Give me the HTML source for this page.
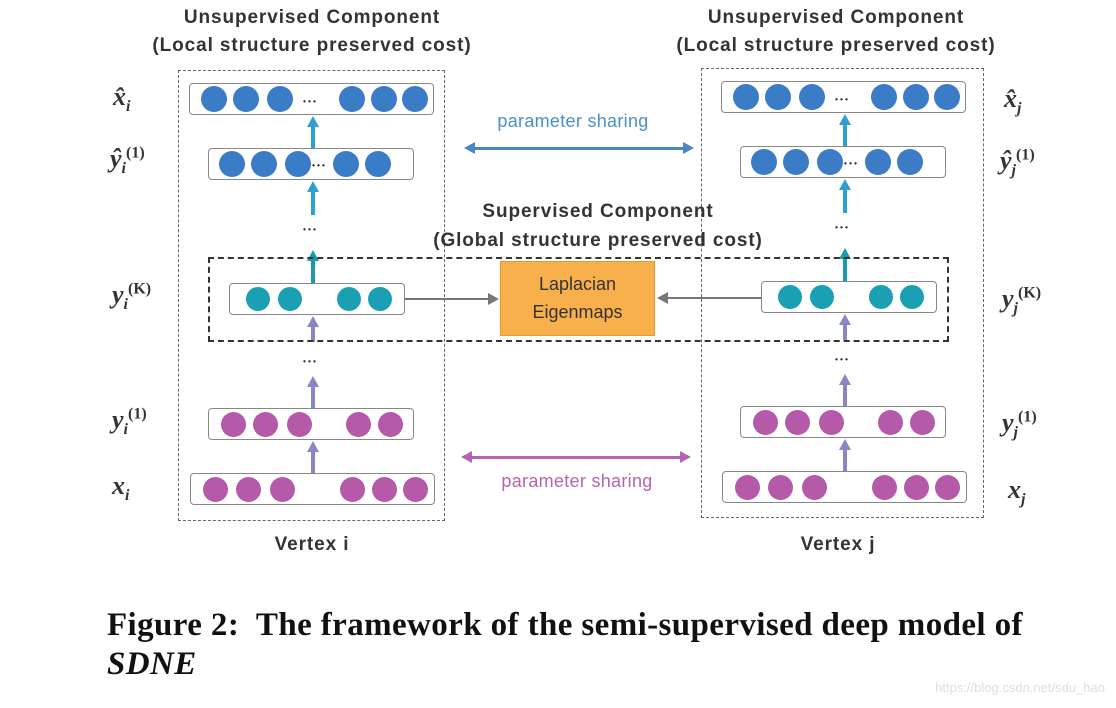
<!DOCTYPE html>
<html><head><meta charset="utf-8"><style>
html,body{margin:0;padding:0;background:#fff;width:1116px;height:708px;overflow:hidden;position:relative;}
div,span{position:absolute;box-sizing:border-box;}
.db{border:1.5px dashed #666;}
.row{border:1.5px solid #888;border-radius:4px;background:#fff;}
.c{border-radius:50%;width:26px;height:26px;}
.b{background:#3a7cc6;}.tl{background:#1aa0b2;}.p{background:#b45aa8;width:25px;height:25px;}
.t{font-family:"Liberation Sans",sans-serif;font-weight:bold;color:#333;font-size:19px;letter-spacing:0.9px;white-space:nowrap;text-align:center;}
.m{font-family:"Liberation Serif",serif;font-style:italic;font-weight:bold;color:#333;font-size:26px;white-space:nowrap;}
.m sub{font-size:16px;} .m sup{font-size:16px;font-style:normal;}
.dots{font-family:"Liberation Serif",serif;font-weight:bold;color:#333;font-size:15px;}
.vl{width:4px;}
.up{width:0;height:0;border-left:6px solid transparent;border-right:6px solid transparent;}
.cap{font-family:"Liberation Serif",serif;font-weight:bold;color:#111;font-size:33px;letter-spacing:0.4px;white-space:nowrap;}
</style></head><body>

<!-- LEFT COLUMN -->
<div class="db" style="left:178px;top:70px;width:267px;height:451px;"></div>
<div class="row" style="left:189px;top:83px;width:245px;height:32px;"></div>
<div class="c b" style="left:201px;top:86px"></div><div class="c b" style="left:233px;top:86px"></div><div class="c b" style="left:267px;top:86px"></div>
<div class="c b" style="left:339px;top:86px"></div><div class="c b" style="left:371px;top:86px"></div><div class="c b" style="left:402px;top:86px"></div>
<div class="dots" style="left:302px;top:94px">···</div>
<div class="row" style="left:208px;top:148px;width:206px;height:32px;"></div>
<div class="c b" style="left:219px;top:151px"></div><div class="c b" style="left:251px;top:151px"></div><div class="c b" style="left:285px;top:151px"></div>
<div class="c b" style="left:333px;top:151px"></div><div class="c b" style="left:365px;top:151px"></div>
<div class="dots" style="left:311px;top:158px">···</div>
<div class="row" style="left:229px;top:283px;width:176px;height:32px;"></div>
<div class="c tl" style="left:246px;top:287px;width:24px;height:24px"></div><div class="c tl" style="left:278px;top:287px;width:24px;height:24px"></div>
<div class="c tl" style="left:337px;top:287px;width:24px;height:24px"></div><div class="c tl" style="left:368px;top:287px;width:24px;height:24px"></div>
<div class="row" style="left:208px;top:408px;width:206px;height:32px;"></div>
<div class="c p" style="left:221px;top:412px"></div><div class="c p" style="left:253px;top:412px"></div><div class="c p" style="left:287px;top:412px"></div>
<div class="c p" style="left:346px;top:412px"></div><div class="c p" style="left:378px;top:412px"></div>
<div class="row" style="left:190px;top:473px;width:245px;height:32px;"></div>
<div class="c p" style="left:203px;top:477px"></div><div class="c p" style="left:236px;top:477px"></div><div class="c p" style="left:270px;top:477px"></div>
<div class="c p" style="left:340px;top:477px"></div><div class="c p" style="left:372px;top:477px"></div><div class="c p" style="left:403px;top:477px"></div>
<div class="vl" style="left:311px;top:126px;height:22px;background:#2f9fd0"></div><div class="up" style="left:307px;top:116px;border-bottom:11px solid #2f9fd0"></div>
<div class="vl" style="left:311px;top:191px;height:24px;background:#2f9fd0"></div><div class="up" style="left:307px;top:181px;border-bottom:11px solid #2f9fd0"></div>
<div class="vl" style="left:311px;top:260px;height:23px;background:#1a9aad"></div><div class="up" style="left:307px;top:250px;border-bottom:11px solid #1a9aad"></div>
<div class="vl" style="left:311px;top:326px;height:16px;background:#8a86c4"></div><div class="up" style="left:307px;top:316px;border-bottom:11px solid #8a86c4"></div>
<div class="vl" style="left:311px;top:386px;height:22px;background:#8a86c4"></div><div class="up" style="left:307px;top:376px;border-bottom:11px solid #8a86c4"></div>
<div class="vl" style="left:311px;top:451px;height:22px;background:#8a86c4"></div><div class="up" style="left:307px;top:441px;border-bottom:11px solid #8a86c4"></div>
<div class="dots" style="left:302px;top:222px">···</div>
<div class="dots" style="left:302px;top:354px">···</div>

<!-- RIGHT COLUMN -->
<div class="db" style="left:701px;top:68px;width:283px;height:450px;"></div>
<div class="row" style="left:721px;top:81px;width:245px;height:32px;"></div>
<div class="c b" style="left:733px;top:84px"></div><div class="c b" style="left:765px;top:84px"></div><div class="c b" style="left:799px;top:84px"></div>
<div class="c b" style="left:871px;top:84px"></div><div class="c b" style="left:903px;top:84px"></div><div class="c b" style="left:934px;top:84px"></div>
<div class="dots" style="left:834px;top:92px">···</div>
<div class="row" style="left:740px;top:146px;width:206px;height:32px;"></div>
<div class="c b" style="left:751px;top:149px"></div><div class="c b" style="left:783px;top:149px"></div><div class="c b" style="left:817px;top:149px"></div>
<div class="c b" style="left:865px;top:149px"></div><div class="c b" style="left:897px;top:149px"></div>
<div class="dots" style="left:843px;top:156px">···</div>
<div class="row" style="left:761px;top:281px;width:176px;height:32px;"></div>
<div class="c tl" style="left:778px;top:285px;width:24px;height:24px"></div><div class="c tl" style="left:810px;top:285px;width:24px;height:24px"></div>
<div class="c tl" style="left:869px;top:285px;width:24px;height:24px"></div><div class="c tl" style="left:900px;top:285px;width:24px;height:24px"></div>
<div class="row" style="left:740px;top:406px;width:206px;height:32px;"></div>
<div class="c p" style="left:753px;top:410px"></div><div class="c p" style="left:785px;top:410px"></div><div class="c p" style="left:819px;top:410px"></div>
<div class="c p" style="left:878px;top:410px"></div><div class="c p" style="left:910px;top:410px"></div>
<div class="row" style="left:722px;top:471px;width:245px;height:32px;"></div>
<div class="c p" style="left:735px;top:475px"></div><div class="c p" style="left:768px;top:475px"></div><div class="c p" style="left:802px;top:475px"></div>
<div class="c p" style="left:872px;top:475px"></div><div class="c p" style="left:904px;top:475px"></div><div class="c p" style="left:935px;top:475px"></div>
<div class="vl" style="left:843px;top:124px;height:22px;background:#2f9fd0"></div><div class="up" style="left:839px;top:114px;border-bottom:11px solid #2f9fd0"></div>
<div class="vl" style="left:843px;top:189px;height:24px;background:#2f9fd0"></div><div class="up" style="left:839px;top:179px;border-bottom:11px solid #2f9fd0"></div>
<div class="vl" style="left:843px;top:258px;height:23px;background:#1a9aad"></div><div class="up" style="left:839px;top:248px;border-bottom:11px solid #1a9aad"></div>
<div class="vl" style="left:843px;top:324px;height:16px;background:#8a86c4"></div><div class="up" style="left:839px;top:314px;border-bottom:11px solid #8a86c4"></div>
<div class="vl" style="left:843px;top:384px;height:22px;background:#8a86c4"></div><div class="up" style="left:839px;top:374px;border-bottom:11px solid #8a86c4"></div>
<div class="vl" style="left:843px;top:449px;height:22px;background:#8a86c4"></div><div class="up" style="left:839px;top:439px;border-bottom:11px solid #8a86c4"></div>
<div class="dots" style="left:834px;top:220px">···</div>
<div class="dots" style="left:834px;top:352px">···</div>

<!-- supervised box -->
<div style="left:208px;top:257px;width:741px;height:85px;border:2px dashed #333;"></div>
<div style="left:500px;top:261px;width:155px;height:75px;background:#f8b04d;border:1px solid #e59a30;font-family:'Liberation Sans',sans-serif;font-size:18px;color:#333;text-align:center;line-height:28px;padding-top:8px;">Laplacian<br>Eigenmaps</div>
<div style="left:405px;top:298px;width:85px;height:2px;background:#777"></div>
<div style="left:488px;top:293px;width:0;height:0;border-top:6px solid transparent;border-bottom:6px solid transparent;border-left:11px solid #777"></div>
<div style="left:667px;top:297px;width:94px;height:2px;background:#777"></div>
<div style="left:657px;top:292px;width:0;height:0;border-top:6px solid transparent;border-bottom:6px solid transparent;border-right:11px solid #777"></div>

<!-- parameter sharing -->
<div style="left:472px;top:147px;width:214px;height:2.5px;background:#4a86c6"></div>
<div style="left:464px;top:142px;width:0;height:0;border-top:6px solid transparent;border-bottom:6px solid transparent;border-right:11px solid #4a86c6"></div>
<div style="left:683px;top:142px;width:0;height:0;border-top:6px solid transparent;border-bottom:6px solid transparent;border-left:11px solid #4a86c6"></div>
<div style="left:473px;top:111px;width:200px;text-align:center;font-family:'Liberation Sans',sans-serif;font-size:18px;letter-spacing:0.3px;color:#4a90c8;">parameter sharing</div>
<div style="left:469px;top:456px;width:214px;height:2.5px;background:#b565b0"></div>
<div style="left:461px;top:451px;width:0;height:0;border-top:6px solid transparent;border-bottom:6px solid transparent;border-right:11px solid #b565b0"></div>
<div style="left:680px;top:451px;width:0;height:0;border-top:6px solid transparent;border-bottom:6px solid transparent;border-left:11px solid #b565b0"></div>
<div style="left:477px;top:471px;width:200px;text-align:center;font-family:'Liberation Sans',sans-serif;font-size:18px;letter-spacing:0.3px;color:#b565b0;">parameter sharing</div>

<!-- titles -->
<div class="t" style="left:152px;top:7px;width:320px;">Unsupervised Component</div>
<div class="t" style="left:132px;top:35px;width:360px;">(Local structure preserved cost)</div>
<div class="t" style="left:676px;top:7px;width:320px;">Unsupervised Component</div>
<div class="t" style="left:656px;top:35px;width:360px;">(Local structure preserved cost)</div>
<div class="t" style="left:438px;top:201px;width:320px;">Supervised Component</div>
<div class="t" style="left:408px;top:230px;width:380px;">(Global structure preserved cost)</div>
<div class="t" style="left:212px;top:534px;width:200px;">Vertex i</div>
<div class="t" style="left:738px;top:534px;width:200px;">Vertex j</div>

<!-- math labels -->
<div class="m" style="left:113px;top:82px">x̂<sub>i</sub></div>
<div class="m" style="left:110px;top:144px">ŷ<sub>i</sub><sup>(1)</sup></div>
<div class="m" style="left:112px;top:280px">y<sub>i</sub><sup>(K)</sup></div>
<div class="m" style="left:112px;top:405px">y<sub>i</sub><sup>(1)</sup></div>
<div class="m" style="left:112px;top:471px">x<sub>i</sub></div>
<div class="m" style="left:1004px;top:84px">x̂<sub>j</sub></div>
<div class="m" style="left:1000px;top:146px">ŷ<sub>j</sub><sup>(1)</sup></div>
<div class="m" style="left:1002px;top:284px">y<sub>j</sub><sup>(K)</sup></div>
<div class="m" style="left:1002px;top:408px">y<sub>j</sub><sup>(1)</sup></div>
<div class="m" style="left:1008px;top:475px">x<sub>j</sub></div>

<!-- caption -->
<div class="cap" style="left:107px;top:607px">Figure 2:&nbsp; The framework of the semi-supervised deep model of</div>
<div class="cap" style="left:107px;top:646px;font-style:italic">SDNE</div>
<div style="left:880px;top:680px;width:225px;text-align:right;font-family:'Liberation Sans',sans-serif;font-size:13px;color:#ddd;white-space:nowrap">https://blog.csdn.net/sdu_hao</div>
</body></html>
